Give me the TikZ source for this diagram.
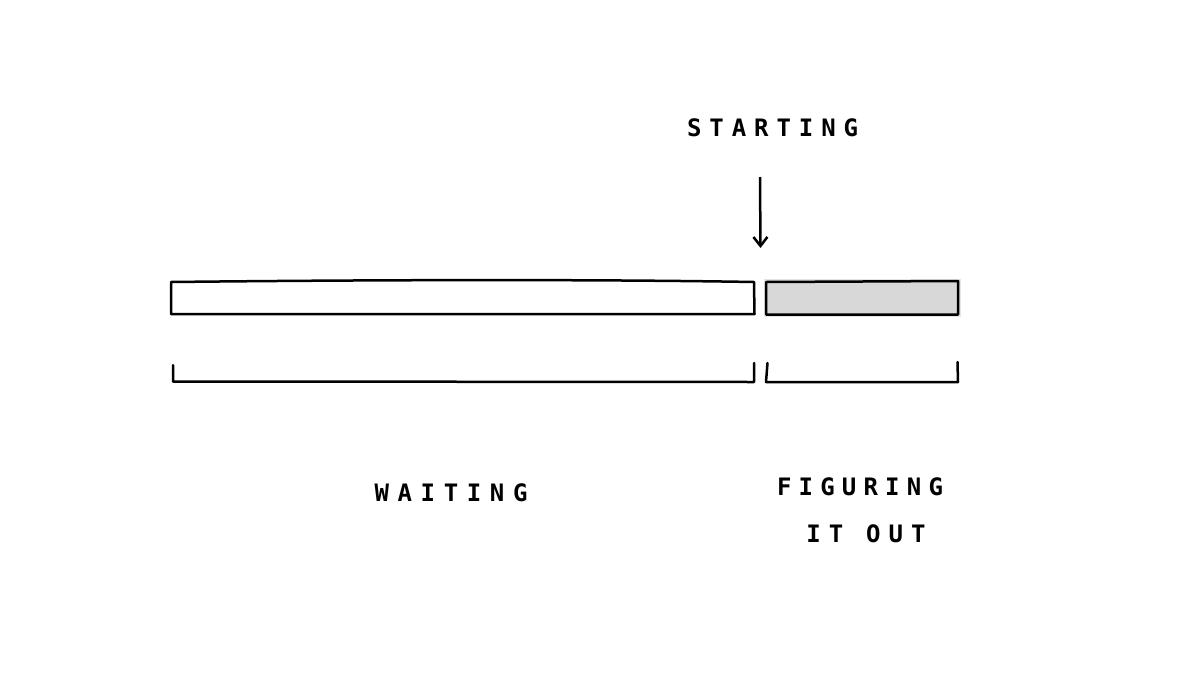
\documentclass[tikz,border=0pt]{standalone}
\usepackage{fontspec}
\setmainfont{DejaVu Sans Mono}
\usetikzlibrary{positioning,arrows.meta}
\definecolor{barfill}{HTML}{D8D8D8}
\definecolor{barhalo}{HTML}{E4E4E4}
\tikzset{
    barline/.style={draw=black, line width=2.5pt, line join=round},
    brace/.style={draw=black, line width=2.5pt, line join=round, line cap=round},
    lbl/.style={font=\fontsize{24pt}{24pt}\selectfont\bfseries, black, inner sep=0pt}
}
\newcommand{\spaced}[2]{\addfontfeatures{LetterSpace=#1}#2}
\begin{document}
\begin{tikzpicture}[x=1pt,y=-1pt]
    \useasboundingbox (0,0) rectangle (1200,675);
    % bars
    \draw[barline] (171,282) .. controls (350,280) and (580,279) .. (754,282) -- (754.5,314) -- (171,314) -- cycle;
    \fill[barhalo] (763.5,278.5) rectangle (960.5,317);
    \draw[barline, fill=barfill] (766,282) -- (958,281) -- (958,314.5) -- (766,314.5) -- cycle;
    % arrow
    \node[lbl] (start) at (772.6,128) {\spaced{33}{STARTING}};
    \coordinate (arrowtop) at (760,177);
    \coordinate (arrowtip) at (760.5,248);
    \draw[-{Straight Barb[length=9pt,width=14pt]},line width=2.5pt] (arrowtop) -- (arrowtip);
    % brackets
    \draw[brace] (173,365) -- (173,381.5) -- (754,382) -- (754,363);
    \draw[brace] (767.5,363) -- (766,382) -- (958,382) -- (957.5,362);
    % labels
    \node[lbl] (wait) at (451,493) {\spaced{36}{WAITING}};
    \node[lbl] (fig) at (860,487) {\spaced{30}{FIGURING}};
    \node[lbl] (out) at (866,534) {\spaced{34}{IT OUT}};
\end{tikzpicture}
\end{document}
